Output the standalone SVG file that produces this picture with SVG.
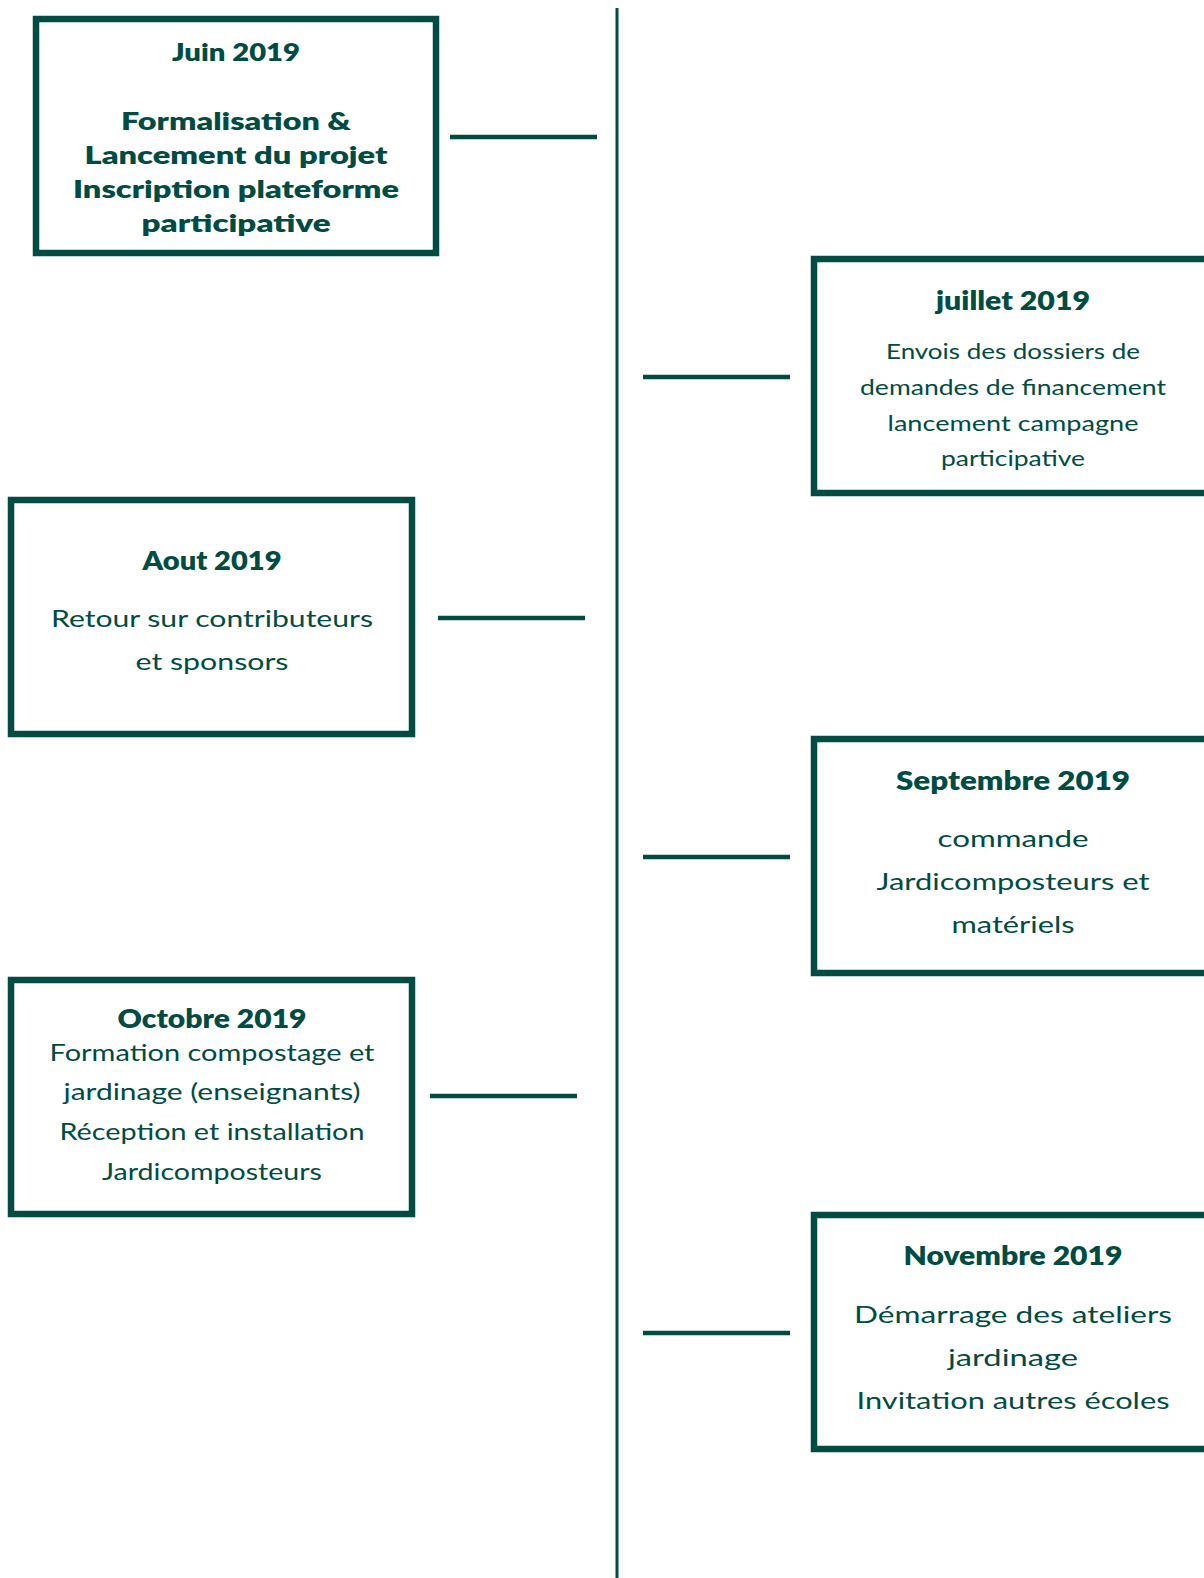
<svg xmlns="http://www.w3.org/2000/svg" width="1204" height="1578" viewBox="0 0 1204 1578">
<style>
.box{fill:#ffffff;stroke:#004c42;stroke-width:6.5}
.con{stroke:#004c42;stroke-width:4.5;fill:none}
.axis{stroke:#004c42;stroke-width:3;fill:none}
.t{font-family:Lato,"Noto Sans",sans-serif;font-weight:800;fill:#004c42;text-anchor:middle}
.b{font-family:Lato,"Noto Sans",sans-serif;font-weight:400;fill:#004c42;text-anchor:middle}
</style>
<rect width="1204" height="1578" fill="#ffffff"/>
<g id="connectors">
<line class="axis" x1="617" y1="8" x2="617" y2="1578"/>
<line class="con" x1="450" y1="137" x2="597" y2="137"/>
<line class="con" x1="643" y1="377" x2="790" y2="377"/>
<line class="con" x1="438" y1="618" x2="585" y2="618"/>
<line class="con" x1="643" y1="857" x2="790" y2="857"/>
<line class="con" x1="430" y1="1096" x2="577" y2="1096"/>
<line class="con" x1="643" y1="1333" x2="790" y2="1333"/>
</g>
<g id="juin">
<rect class="box" x="36" y="19" width="400" height="234"/>
<text class="t" x="236" y="61" font-size="25" textLength="128" lengthAdjust="spacingAndGlyphs">Juin 2019</text>
<text class="t" x="236" y="130" font-size="25" textLength="230" lengthAdjust="spacingAndGlyphs">Formalisation &amp;</text>
<text class="t" x="236" y="164" font-size="25" textLength="303" lengthAdjust="spacingAndGlyphs">Lancement du projet</text>
<text class="t" x="236" y="198" font-size="25" textLength="326" lengthAdjust="spacingAndGlyphs">Inscription plateforme</text>
<text class="t" x="236" y="232" font-size="25" textLength="189" lengthAdjust="spacingAndGlyphs">participative</text>
</g>
<g id="juillet">
<rect class="box" x="814" y="259" width="420" height="234"/>
<text class="t" x="1013" y="310" font-size="26" textLength="154" lengthAdjust="spacingAndGlyphs">juillet 2019</text>
<text class="b" x="1013" y="359" font-size="21" textLength="254" lengthAdjust="spacingAndGlyphs">Envois des dossiers de</text>
<text class="b" x="1013" y="395" font-size="21" textLength="306" lengthAdjust="spacingAndGlyphs">demandes de financement</text>
<text class="b" x="1013" y="431" font-size="21" textLength="251" lengthAdjust="spacingAndGlyphs">lancement campagne</text>
<text class="b" x="1013" y="466" font-size="21" textLength="144" lengthAdjust="spacingAndGlyphs">participative</text>
</g>
<g id="aout">
<rect class="box" x="11" y="500" width="401" height="234"/>
<text class="t" x="212" y="570" font-size="27" textLength="139" lengthAdjust="spacingAndGlyphs">Aout 2019</text>
<text class="b" x="212" y="627" font-size="24" textLength="322" lengthAdjust="spacingAndGlyphs">Retour sur contributeurs</text>
<text class="b" x="212" y="670" font-size="24" textLength="153" lengthAdjust="spacingAndGlyphs">et sponsors</text>
</g>
<g id="septembre">
<rect class="box" x="814" y="739" width="420" height="234"/>
<text class="t" x="1013" y="790" font-size="27" textLength="234" lengthAdjust="spacingAndGlyphs">Septembre 2019</text>
<text class="b" x="1013" y="847" font-size="24" textLength="151" lengthAdjust="spacingAndGlyphs">commande</text>
<text class="b" x="1013" y="890" font-size="24" textLength="273" lengthAdjust="spacingAndGlyphs">Jardicomposteurs et</text>
<text class="b" x="1013" y="933" font-size="24" textLength="123" lengthAdjust="spacingAndGlyphs">matériels</text>
</g>
<g id="octobre">
<rect class="box" x="11" y="980" width="401" height="234"/>
<text class="t" x="212" y="1028" font-size="27" textLength="189" lengthAdjust="spacingAndGlyphs">Octobre 2019</text>
<text class="b" x="212" y="1061" font-size="24" textLength="325" lengthAdjust="spacingAndGlyphs">Formation compostage et</text>
<text class="b" x="212" y="1100" font-size="24" textLength="297" lengthAdjust="spacingAndGlyphs">jardinage (enseignants)</text>
<text class="b" x="212" y="1140" font-size="24" textLength="305" lengthAdjust="spacingAndGlyphs">Réception et installation</text>
<text class="b" x="212" y="1180" font-size="24" textLength="220" lengthAdjust="spacingAndGlyphs">Jardicomposteurs</text>
</g>
<g id="novembre">
<rect class="box" x="814" y="1215" width="420" height="234"/>
<text class="t" x="1013" y="1265" font-size="27" textLength="219" lengthAdjust="spacingAndGlyphs">Novembre 2019</text>
<text class="b" x="1013" y="1323" font-size="24" textLength="318" lengthAdjust="spacingAndGlyphs">Démarrage des ateliers</text>
<text class="b" x="1013" y="1366" font-size="24" textLength="130" lengthAdjust="spacingAndGlyphs">jardinage</text>
<text class="b" x="1013" y="1409" font-size="24" textLength="313" lengthAdjust="spacingAndGlyphs">Invitation autres écoles</text>
</g>
</svg>
